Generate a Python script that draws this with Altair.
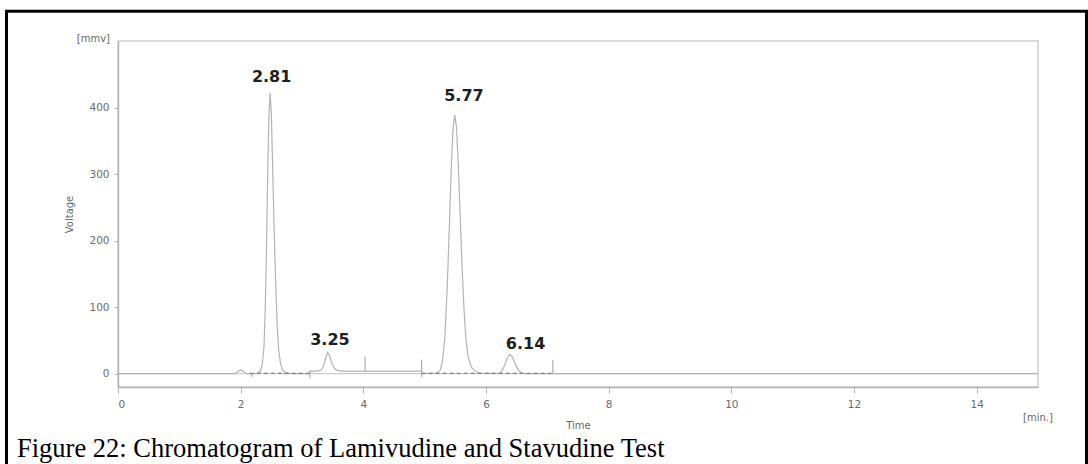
import altair as alt
import pandas as pd

# ---- chromatogram trace (time in min, signal in mV)
time_min = [0.0, 1.90, 1.95, 2.00, 2.05, 2.10, 2.20, 2.28, 2.32, 2.35, 2.38, 2.40,
            2.42, 2.44, 2.46, 2.48, 2.50, 2.52, 2.54, 2.56, 2.58, 2.60, 2.62, 2.65,
            2.68, 2.72, 2.80, 3.12, 3.13, 3.25, 3.32, 3.36, 3.39, 3.42, 3.45, 3.48,
            3.52, 3.57, 3.65, 4.00, 4.95, 4.96, 5.20, 5.25, 5.29, 5.33, 5.37, 5.40,
            5.43, 5.46, 5.49, 5.52, 5.55, 5.58, 5.61, 5.64, 5.67, 5.71, 5.76, 5.82,
            5.90, 6.20, 6.25, 6.30, 6.35, 6.39, 6.43, 6.48, 6.53, 6.58, 6.65, 15.0]
signal_mv = [0, 0, 3, 6, 3, 0, 0, 1, 4, 12, 40, 95,
             185, 295, 385, 422, 392, 315, 240, 170, 110, 65, 35, 15,
             6, 2, 0, 0, 4, 4, 6, 14, 25, 32, 27, 17,
             9, 5, 4, 4, 4, 0, 1, 5, 18, 55, 135, 215,
             300, 365, 389, 370, 310, 235, 160, 100, 55, 25, 10, 4,
             1, 0, 2, 12, 24, 29, 25, 14, 5, 1, 0, 0]

# integration markers (vertical ticks)
marker_time = [2.18, 3.13, 4.03, 4.95, 7.09]
marker_low = [-5, -7, 3, -5, 0]
marker_high = [2, 5, 26, 21, 21]

# dashed integration baselines
base_start = [2.15, 4.95]
base_end = [3.13, 7.09]
base_level = [0.5, 0.5]

# peak labels
peak_text = ["2.81", "3.25", "5.77", "6.14"]
peak_x = [2.505, 3.455, 5.64, 6.645]
peak_y = [446, 51, 418, 45]

x_ticks = [0, 2, 4, 6, 8, 10, 12, 14]
y_ticks = [0, 100, 200, 300, 400]

caption = "Figure 22: Chromatogram of Lamivudine and Stavudine Test"

trace = pd.DataFrame({"t": time_min, "v": signal_mv})
markers = pd.DataFrame({"t": marker_time, "lo": marker_low, "hi": marker_high})
bases = pd.DataFrame({"t0": base_start, "t1": base_end, "v": base_level})
labels = pd.DataFrame({"t": peak_x, "v": peak_y, "txt": peak_text})
one = pd.DataFrame({"k": [0]})

xscale = alt.Scale(domain=[0, 15], nice=False, zero=False)
yscale = alt.Scale(domain=[-20, 500], nice=False, zero=False)

xaxis = alt.Axis(values=x_ticks, format="d", title="Time", grid=False, titleY=38,
                 titleBaseline="middle", labelPadding=6, tickSize=6)
yaxis = alt.Axis(values=y_ticks, format="d", title="Voltage", grid=False, titleX=-49,
                 titleY=173, titleAngle=270, titleAlign="center",
                 titleBaseline="middle", tickSize=4, labelPadding=5)

zero_line = alt.Chart(one).mark_rule(color="#bdbdbd", strokeWidth=1).encode(
    x=alt.value(0), x2=alt.value(920), y=alt.datum(0, scale=yscale)
)

line = alt.Chart(trace).mark_line(color="#b3b3b3", strokeWidth=1.2).encode(
    x=alt.X("t:Q", scale=xscale, axis=xaxis),
    y=alt.Y("v:Q", scale=yscale, axis=yaxis),
)

dashed = alt.Chart(bases).mark_rule(color="#808080", strokeWidth=1.2,
                                     strokeDash=[4, 3]).encode(
    x=alt.X("t0:Q", scale=xscale), x2="t1:Q",
    y=alt.Y("v:Q", scale=yscale),
)

ticks = alt.Chart(markers).mark_rule(color="#b0b0b0", strokeWidth=1.2).encode(
    x=alt.X("t:Q", scale=xscale),
    y=alt.Y("lo:Q", scale=yscale), y2="hi:Q",
)

peak_labels = alt.Chart(labels).mark_text(
    font="DejaVu Sans", fontSize=16, fontWeight="bold", color="#1e1e1e",
    align="center", baseline="middle"
).encode(
    x=alt.X("t:Q", scale=xscale), y=alt.Y("v:Q", scale=yscale), text="txt:N"
)

unit_y = alt.Chart(one).mark_text(
    text="[mmv]", font="DejaVu Sans", fontSize=10, color="#666666",
    align="right", baseline="middle"
).encode(x=alt.value(-8), y=alt.value(-2))

unit_x = alt.Chart(one).mark_text(
    text="[min.]", font="DejaVu Sans", fontSize=10, color="#666666",
    align="center", baseline="middle"
).encode(x=alt.value(920), y=alt.value(377))

cap = alt.Chart(one).mark_text(
    text=caption, font="Liberation Serif", fontSize=26.5, color="#000000",
    align="left", baseline="alphabetic"
).encode(x=alt.value(-101), y=alt.value(416))

frame_top = alt.Chart(one).mark_rule(color="#000000", strokeWidth=3).encode(
    x=alt.value(-113), x2=alt.value(970), y=alt.value(-29.7)
)
frame_left = alt.Chart(one).mark_rule(color="#000000", strokeWidth=3).encode(
    x=alt.value(-111.5), y=alt.value(-31), y2=alt.value(423)
)
frame_right = alt.Chart(one).mark_rule(color="#000000", strokeWidth=3).encode(
    x=alt.value(968.5), y=alt.value(-31), y2=alt.value(423)
)

chart = alt.layer(
    zero_line, line, dashed, ticks, peak_labels, unit_y, unit_x, cap,
    frame_top, frame_left, frame_right
).properties(
    width=920, height=346,
    autosize=alt.AutoSizeParams(type="none"),
    padding={"left": 118, "top": 41, "right": 50, "bottom": 77},
    background="white",
).configure_view(
    stroke="#cfcfcf", strokeWidth=1.5
).configure_axis(
    labelFont="DejaVu Sans", labelFontSize=10.5, labelColor="#6a6a6a",
    titleFont="DejaVu Sans", titleFontSize=10, titleFontWeight="normal",
    titleColor="#666666", domainColor="#b5b5b5", domainWidth=1.5,
    tickColor="#b5b5b5", tickWidth=1
)

chart.save("out.html", embed_options={"renderer": "svg", "actions": False})
